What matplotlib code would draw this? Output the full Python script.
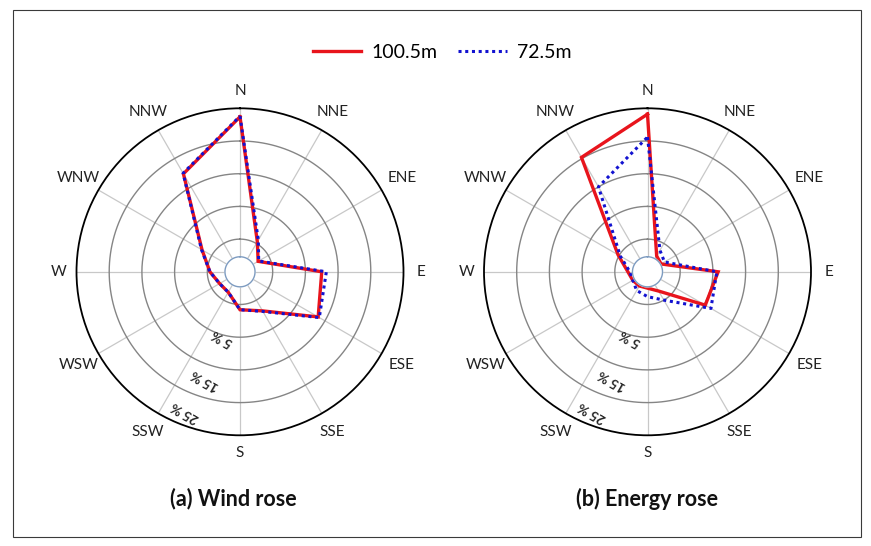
import matplotlib
matplotlib.use("Agg")
import matplotlib.pyplot as plt
import numpy as np
from matplotlib.lines import Line2D
from matplotlib.patches import Rectangle

plt.rcParams['font.family'] = ['Lato', 'DejaVu Sans']

# ---- data -------------------------------------------------------------
directions = ['N', 'NNE', 'ENE', 'E', 'ESE', 'SSE', 'S', 'SSW', 'WSW', 'W', 'WNW', 'NNW']

# wind rose (radial units: rings every 5, outer circle at 25)
wind_100 = [23.7, 5.3, 3.2, 12.5, 13.8, 6.9, 5.8, 3.6, 3.6, 4.6, 6.7, 17.3]
wind_72 = [23.8, 5.6, 3.3, 13.2, 14.0, 7.0, 5.8, 3.6, 3.6, 4.6, 6.8, 17.4]

# energy rose
energy_100 = [24.1, 2.8, 2.4, 10.8, 10.2, 3.4, 2.5, 2.5, 2.6, 3.0, 5.2, 20.2]
energy_72 = [20.6, 3.8, 3.0, 10.6, 11.2, 5.0, 3.8, 3.3, 2.6, 2.7, 4.8, 15.0]

series_names = ['100.5m', '72.5m']
ring_values = [5, 10, 15, 20]
outer_value = 25
hole_value = 2.3
pct_labels = ['5 %', '15 %', '25 %']
pct_label_pos = [(194.8, 10.4), (197.9, 17.4), (201.4, 23.0)]  # (deg, r)
titles = ['(a) Wind rose', '(b) Energy rose']

# ---- styling ----------------------------------------------------------
RED = '#e8141c'
BLUE = '#1212d0'
RING_C = '#858585'
SPOKE_C = '#c8c8c8'
HOLE_C = '#7d9bc0'

W, H = 871, 546
fig = plt.figure(figsize=(W / 100, H / 100), dpi=100)
fig.patch.set_facecolor('white')

# thin frame around the whole figure
fig.patches.append(Rectangle((13 / W, 1 - 537 / H), (861 - 13) / W, (537 - 10) / H,
                             transform=fig.transFigure, fill=False,
                             edgecolor='#3a3a3a', lw=0.8))

theta = np.deg2rad(np.arange(len(directions)) * 30.0)
full = np.linspace(0, 2 * np.pi, 361)


def closed(vals):
    v = list(vals)
    return np.append(theta, theta[0]), np.array(v + v[:1])


def make_rose(cx, cy, rpx, red_vals, blue_vals, title, title_xy):
    ax = fig.add_axes([(cx - rpx) / W, 1 - (cy + rpx) / H, 2 * rpx / W, 2 * rpx / H],
                      projection='polar')
    ax.set_theta_zero_location('N')
    ax.set_theta_direction(-1)
    ax.set_ylim(0, outer_value)
    ax.grid(False)
    ax.set_xticks([])
    ax.set_yticks([])
    ax.spines['polar'].set_color('black')
    ax.spines['polar'].set_linewidth(1.3)

    for r in ring_values:
        ax.plot(full, np.full_like(full, r), color=RING_C, lw=1.0, zorder=1)
    for th in theta:
        ax.plot([th, th], [hole_value, outer_value], color=SPOKE_C, lw=0.9, zorder=0.9)

    t, r = closed(red_vals)
    ax.plot(t, r, color=RED, lw=2.4, zorder=3, solid_joinstyle='miter')
    t, r = closed(blue_vals)
    ax.plot(t, r, color=BLUE, lw=2.2, ls=(0, (1, 1.2)), zorder=4)

    ax.fill(full, np.full_like(full, hole_value), color='white', zorder=5)
    ax.plot(full, np.full_like(full, hole_value), color=HOLE_C, lw=1.0, zorder=6)

    for th, lab in zip(theta, directions):
        extra = abs(np.sin(th)) if len(lab) == 3 else 0.0
        ax.text(th, 27.7 + extra, lab, ha='center', va='center', fontsize=11,
                color='#222222', clip_on=False)

    for lab, (deg, rr) in zip(pct_labels, pct_label_pos):
        ax.text(np.deg2rad(deg), rr, lab, rotation=150, ha='center', va='center',
                fontsize=9.5, fontweight='bold', color='#222222', zorder=7,
                rotation_mode='anchor')

    fig.text(title_xy[0] / W, 1 - title_xy[1] / H, title, ha='center', va='center',
             fontsize=15.5, fontweight='bold', color='#111111')
    return ax


make_rose(240, 271.8, 163.5, wind_100, wind_72, titles[0], (233, 499))
make_rose(647.5, 271.8, 163.5, energy_100, energy_72, titles[1], (647, 499))

handles = [Line2D([], [], color=RED, lw=2.4),
           Line2D([], [], color=BLUE, lw=2.2, ls=(0, (1, 1.2)))]
fig.legend(handles, series_names, loc='center', bbox_to_anchor=(442 / W, 1 - 52.7 / H),
           ncol=2, frameon=False, fontsize=14, handlelength=2.5, handletextpad=0.5,
           columnspacing=1.1)

fig.savefig('out.png', dpi=100, facecolor='white')
